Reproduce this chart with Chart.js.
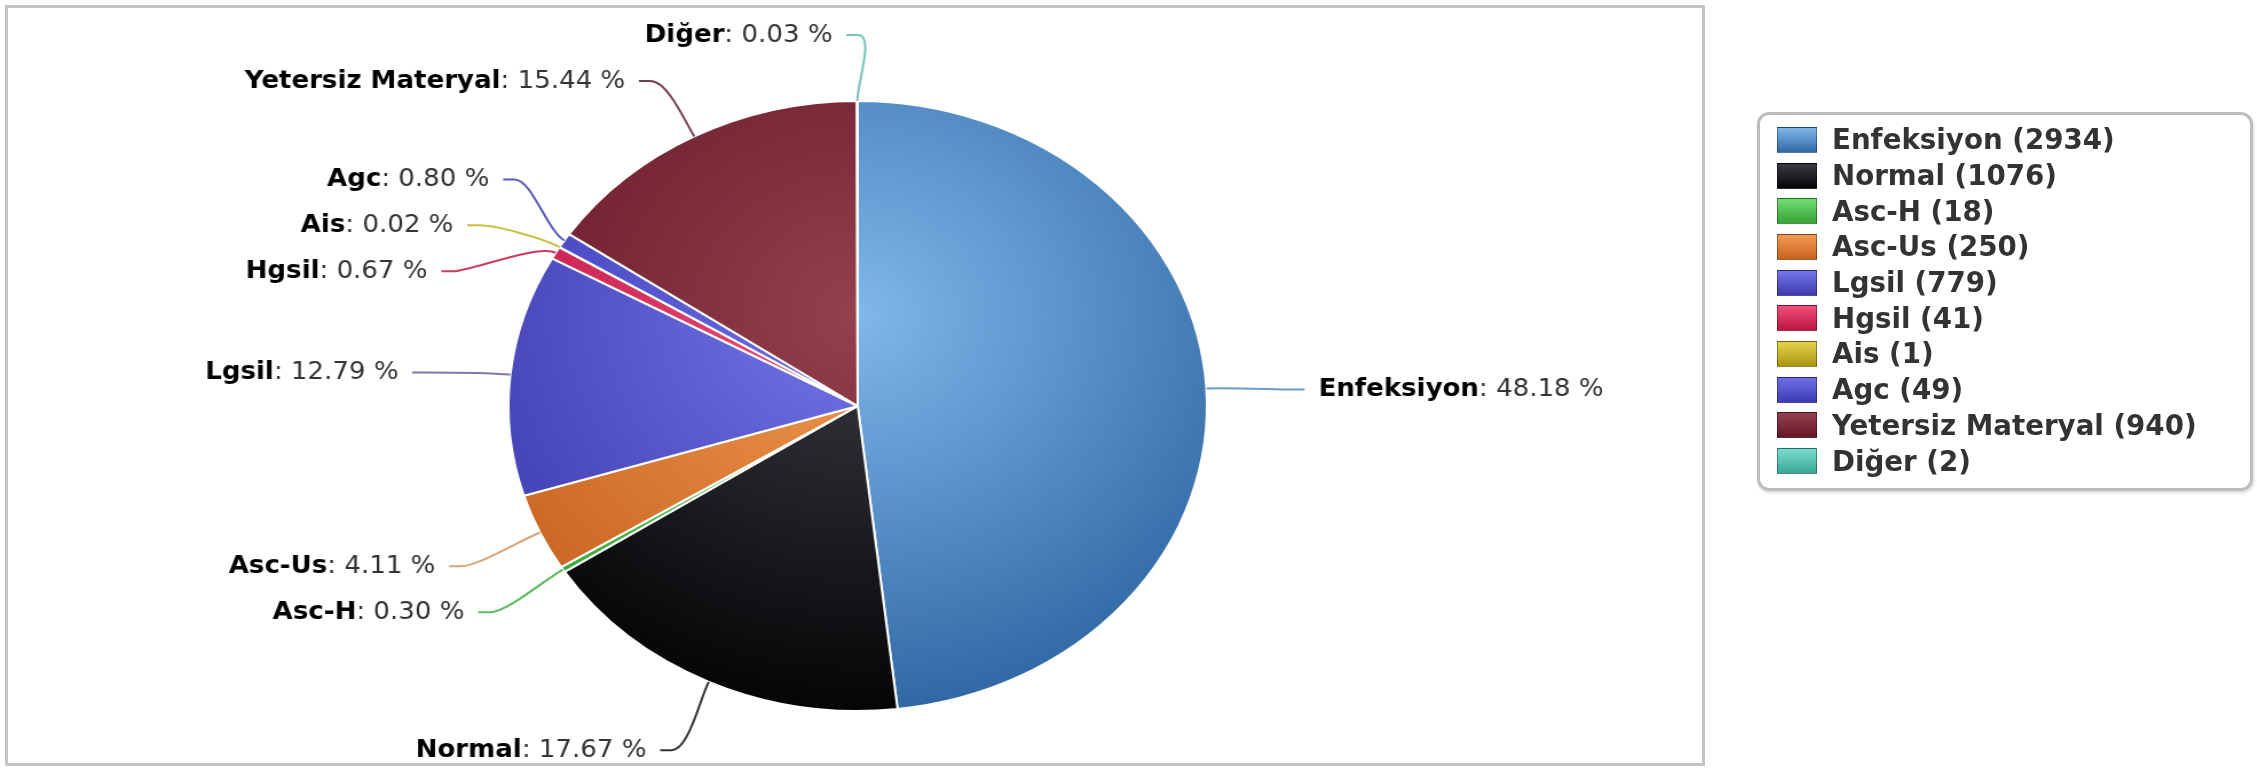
<!DOCTYPE html>
<html>
<head>
<meta charset="utf-8">
<script src="https://cdn.jsdelivr.net/npm/chart.js@4.4.1/dist/chart.umd.min.js"></script>
<style>
  html, body { margin: 0; padding: 0; background: #fff; }
  body { width: 2257px; height: 768px; position: relative; overflow: hidden; font-family: "DejaVu Sans", sans-serif; }
  #frame { position: absolute; left: 5px; top: 5px; width: 1700px; height: 761px; box-sizing: border-box; border: 3px solid #c4c4c4; }
  #stretch { position: absolute; left: 0; top: 0; width: 1971px; height: 768px; transform: scaleX(1.1451); transform-origin: 0 0; }
  #legend { position: absolute; left: 1757px; top: 112px; width: 496px; height: 379px; box-sizing: border-box;
            border: 3px solid #bdbdbd; border-radius: 12px; padding: 7px 0 0 17px; box-shadow: 1px 2px 3px rgba(0,0,0,0.15); }
  .item { display: flex; align-items: center; height: 35.7px; }
  .swatch { width: 40px; height: 26px; box-sizing: border-box; border: 1px solid rgba(0,0,0,0.35); margin-right: 15px; }
  .item span { font-weight: bold; font-size: 27.7px; color: #333; white-space: nowrap; }
</style>
</head>
<body>
<div id="frame"></div>
<div id="stretch"><canvas id="pieChart" width="1971" height="768"></canvas></div>
<div id="legend"></div>
<script>
const categories = ["Enfeksiyon", "Normal", "Asc-H", "Asc-Us", "Lgsil", "Hgsil", "Ais", "Agc", "Yetersiz Materyal", "Diğer"];
const counts = [2934, 1076, 18, 250, 779, 41, 1, 49, 940, 2];

const lightColors = ["#80b8ec", "#3a3b42", "#74dc74", "#f09a52", "#7676ec", "#f05078", "#e4d44c", "#6e6ee6", "#94404f", "#78dcd0"];
const darkColors  = ["#3068a4", "#050507", "#36a436", "#c86420", "#3c3cae", "#bc1444", "#ac9410", "#3c3cb4", "#641624", "#3aa898"];
const lineColors  = ["#6e9cc4", "#333333", "#5cbc5c", "#d8a47c", "#7a7aa8", "#cc3a60", "#c8c040", "#5a5abc", "#7a4050", "#78c4b8"];

const LABEL_DISTANCE = 70;
const LABEL_GAP = 46;
const LABEL_SHIFT = 5;
const FONT_SIZE = 25;
const TEXT_SQUEEZE = 0.91;

// push overlapping labels apart, the lower one a bit more
function spreadLabels(list) {
  list.sort((a, b) => a.ly - b.ly);
  for (let k = 0; k < 400; k++) {
    let moved = false;
    for (let j = 0; j < list.length - 1; j++) {
      const d = list[j + 1].ly - list[j].ly;
      if (d < LABEL_GAP - 0.01) {
        const s = LABEL_GAP - d;
        list[j].ly -= s * 0.4;
        list[j + 1].ly += s * 0.6;
        moved = true;
      }
    }
    if (!moved) break;
  }
}

const pieLabels = {
  id: "pieLabels",
  afterDatasetsDraw(chart) {
    const meta = chart.getDatasetMeta(0);
    const ctx = chart.ctx;
    const total = counts.reduce((a, b) => a + b, 0);

    const items = meta.data.map((arc, i) => {
      const p = arc.getProps(["x", "y", "startAngle", "endAngle", "outerRadius"], true);
      const mid = (p.startAngle + p.endAngle) / 2;
      const R = p.outerRadius + LABEL_DISTANCE;
      return { i, cx: p.x, cy: p.y, r: p.outerRadius, R, mid, left: Math.cos(mid) < 0,
               ly: p.y + R * Math.sin(mid) + LABEL_SHIFT };
    });

    spreadLabels(items.filter((it) => it.left));
    spreadLabels(items.filter((it) => !it.left));

    items.forEach((it) => {
      const sign = it.left ? -1 : 1;
      const t = Math.max(-1, Math.min(1, (it.ly - LABEL_SHIFT - it.cy) / it.R));
      const lx = it.cx + sign * (it.R + 6) * Math.sqrt(1 - t * t);
      const ex = it.cx + it.r * Math.cos(it.mid);
      const ey = it.cy + it.r * Math.sin(it.mid);
      const bx = it.cx + (it.r + 18) * Math.cos(it.mid);
      const by = it.cy + (it.r + 18) * Math.sin(it.mid);

      ctx.save();
      ctx.strokeStyle = lineColors[it.i];
      ctx.lineWidth = 2;
      ctx.beginPath();
      ctx.moveTo(lx + sign * 10, it.ly);
      ctx.lineTo(lx, it.ly);
      ctx.bezierCurveTo(lx - sign * 15, it.ly, bx, by, ex, ey);
      ctx.stroke();

      const name = categories[it.i];
      const rest = ": " + (counts[it.i] / total * 100).toFixed(2) + " %";
      const boldFont = `bold ${FONT_SIZE}px 'DejaVu Sans'`;
      const plainFont = `${FONT_SIZE}px 'DejaVu Sans'`;
      ctx.font = boldFont;
      const nameW = ctx.measureText(name).width * TEXT_SQUEEZE;
      ctx.font = plainFont;
      const restW = ctx.measureText(rest).width * TEXT_SQUEEZE;
      const start = it.left ? lx - 22 - nameW - restW : lx + 22;

      ctx.textBaseline = "middle";
      ctx.textAlign = "left";
      ctx.translate(start, it.ly);
      ctx.scale(TEXT_SQUEEZE, 1);
      ctx.font = boldFont;
      ctx.fillStyle = "#000";
      ctx.fillText(name, 0, 0);
      ctx.font = plainFont;
      ctx.fillStyle = "#333";
      ctx.fillText(rest, nameW / TEXT_SQUEEZE, 0);
      ctx.restore();
    });
  }
};

function sliceFill(context) {
  const chart = context.chart;
  const area = chart.chartArea;
  const i = context.dataIndex;
  if (!area) return darkColors[i];
  const cx = (area.left + area.right) / 2;
  const cy = (area.top + area.bottom) / 2;
  const r = Math.min(area.right - area.left, area.bottom - area.top) / 2;
  const g = chart.ctx.createRadialGradient(cx, cy - r * 0.3, 0, cx, cy - r * 0.3, r * 1.3);
  g.addColorStop(0, lightColors[i]);
  g.addColorStop(1, darkColors[i]);
  return g;
}

new Chart(document.getElementById("pieChart"), {
  type: "pie",
  data: {
    labels: categories,
    datasets: [{
      data: counts,
      backgroundColor: sliceFill,
      borderColor: "#ffffff",
      borderWidth: 2
    }]
  },
  options: {
    responsive: false,
    animation: false,
    layout: { padding: { left: 443, right: 916, top: 100, bottom: 56 } },
    plugins: { legend: { display: false }, tooltip: { enabled: false } }
  },
  plugins: [pieLabels]
});

document.getElementById("legend").innerHTML = categories.map((name, i) => `
  <div class="item">
    <div class="swatch" style="background: linear-gradient(to bottom, ${lightColors[i]}, ${darkColors[i]})"></div>
    <span>${name} (${counts[i]})</span>
  </div>`).join("");
</script>
</body>
</html>
